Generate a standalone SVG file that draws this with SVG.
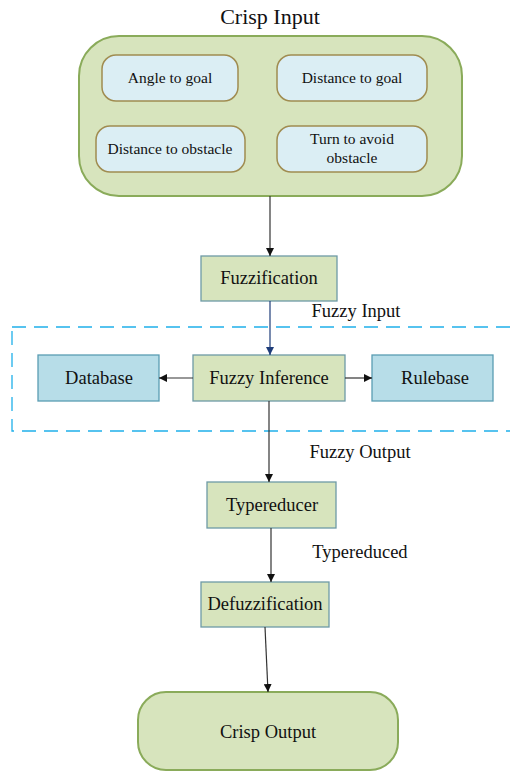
<svg xmlns="http://www.w3.org/2000/svg" width="510" height="771" viewBox="0 0 510 771">
<defs>
<style>
text{font-family:'Liberation Serif','Times New Roman',serif;fill:#111;text-anchor:middle}
.lbl{font-size:18.5px}
.sm{font-size:15.5px}
.box{fill:#d7e4bd;stroke:#6e9aa6;stroke-width:1.3}
.blue{fill:#b7dde8;stroke:#5a9db3;stroke-width:1.3}
.inner{fill:#dbeef4;stroke:#a08c50;stroke-width:1.5}
.round{fill:#d7e4bd;stroke:#8aab5a;stroke-width:2}
.conn{stroke:#333;stroke-width:1.2;fill:none;marker-end:url(#ah)}
</style>
<marker id="ah" viewBox="0 0 10 10" refX="10" refY="5" markerWidth="8" markerHeight="8" markerUnits="userSpaceOnUse" orient="auto"><path d="M0,0L10,5L0,10z" fill="#111"/></marker>
<marker id="ahb" viewBox="0 0 10 10" refX="10" refY="5" markerWidth="8" markerHeight="8" markerUnits="userSpaceOnUse" orient="auto"><path d="M0,0L10,5L0,10z" fill="#1f3d7a"/></marker>
</defs>
<g font-family="Liberation Serif, Times New Roman, serif">
<text x="270" y="24" style="font-size:22px">Crisp Input</text>
<g id="crisp-input">
<rect class="round" x="79" y="36" width="383" height="160" rx="40"/>
</g>
<g id="angle-to-goal"><rect class="inner" x="102" y="55" width="136" height="46" rx="14"/><text class="sm" x="170" y="83">Angle to goal</text></g>
<g id="distance-to-goal"><rect class="inner" x="277" y="55" width="150" height="46" rx="14"/><text class="sm" x="352" y="83">Distance to goal</text></g>
<g id="distance-to-obstacle"><rect class="inner" x="96" y="126" width="149" height="46" rx="14"/><text class="sm" x="170" y="154">Distance to obstacle</text></g>
<g id="turn-to-avoid"><rect class="inner" x="277" y="126" width="150" height="46" rx="14"/><text class="sm" x="352" y="144">Turn to avoid</text><text class="sm" x="352" y="163">obstacle</text></g>
<rect x="12" y="327" width="510" height="104" fill="none" stroke="#1fb0ea" stroke-width="1.3" stroke-dasharray="14,8"/>
<g id="fuzzification"><rect class="box" x="201" y="256" width="136" height="45"/><text class="lbl" x="269" y="284">Fuzzification</text></g>
<g id="fuzzy-inference"><rect class="box" x="193" y="355" width="152" height="46"/><text class="lbl" x="269" y="384">Fuzzy Inference</text></g>
<g id="database"><rect class="blue" x="38" y="355" width="121" height="46"/><text class="lbl" x="99" y="384">Database</text></g>
<g id="rulebase"><rect class="blue" x="372" y="355" width="121" height="46"/><text class="lbl" x="435" y="384">Rulebase</text></g>
<g id="typereducer"><rect class="box" x="207" y="482" width="129" height="46"/><text class="lbl" x="272" y="511">Typereducer</text></g>
<g id="defuzzification"><rect class="box" x="201" y="582" width="128" height="45"/><text class="lbl" x="265" y="610">Defuzzification</text></g>
<g id="crisp-output"><rect class="round" x="138" y="692" width="260" height="78" rx="28"/><text class="lbl" x="268" y="738">Crisp Output</text></g>
<g id="labels">
<text class="lbl" x="356" y="317">Fuzzy Input</text>
<text class="lbl" x="360" y="458">Fuzzy Output</text>
<text class="lbl" x="360" y="558">Typereduced</text>
</g>
</g>
<g id="connectors">
<path class="conn" d="M270,196V256"/>
<path d="M270,301V355" stroke="#1f3d7a" stroke-width="1.2" fill="none" marker-end="url(#ahb)"/>
<path class="conn" d="M193,378H159"/>
<path class="conn" d="M345,378H372"/>
<path class="conn" d="M269,401V482"/>
<path class="conn" d="M271,528V582"/>
<path class="conn" d="M265,627L268,692"/>
</g>
</svg>
